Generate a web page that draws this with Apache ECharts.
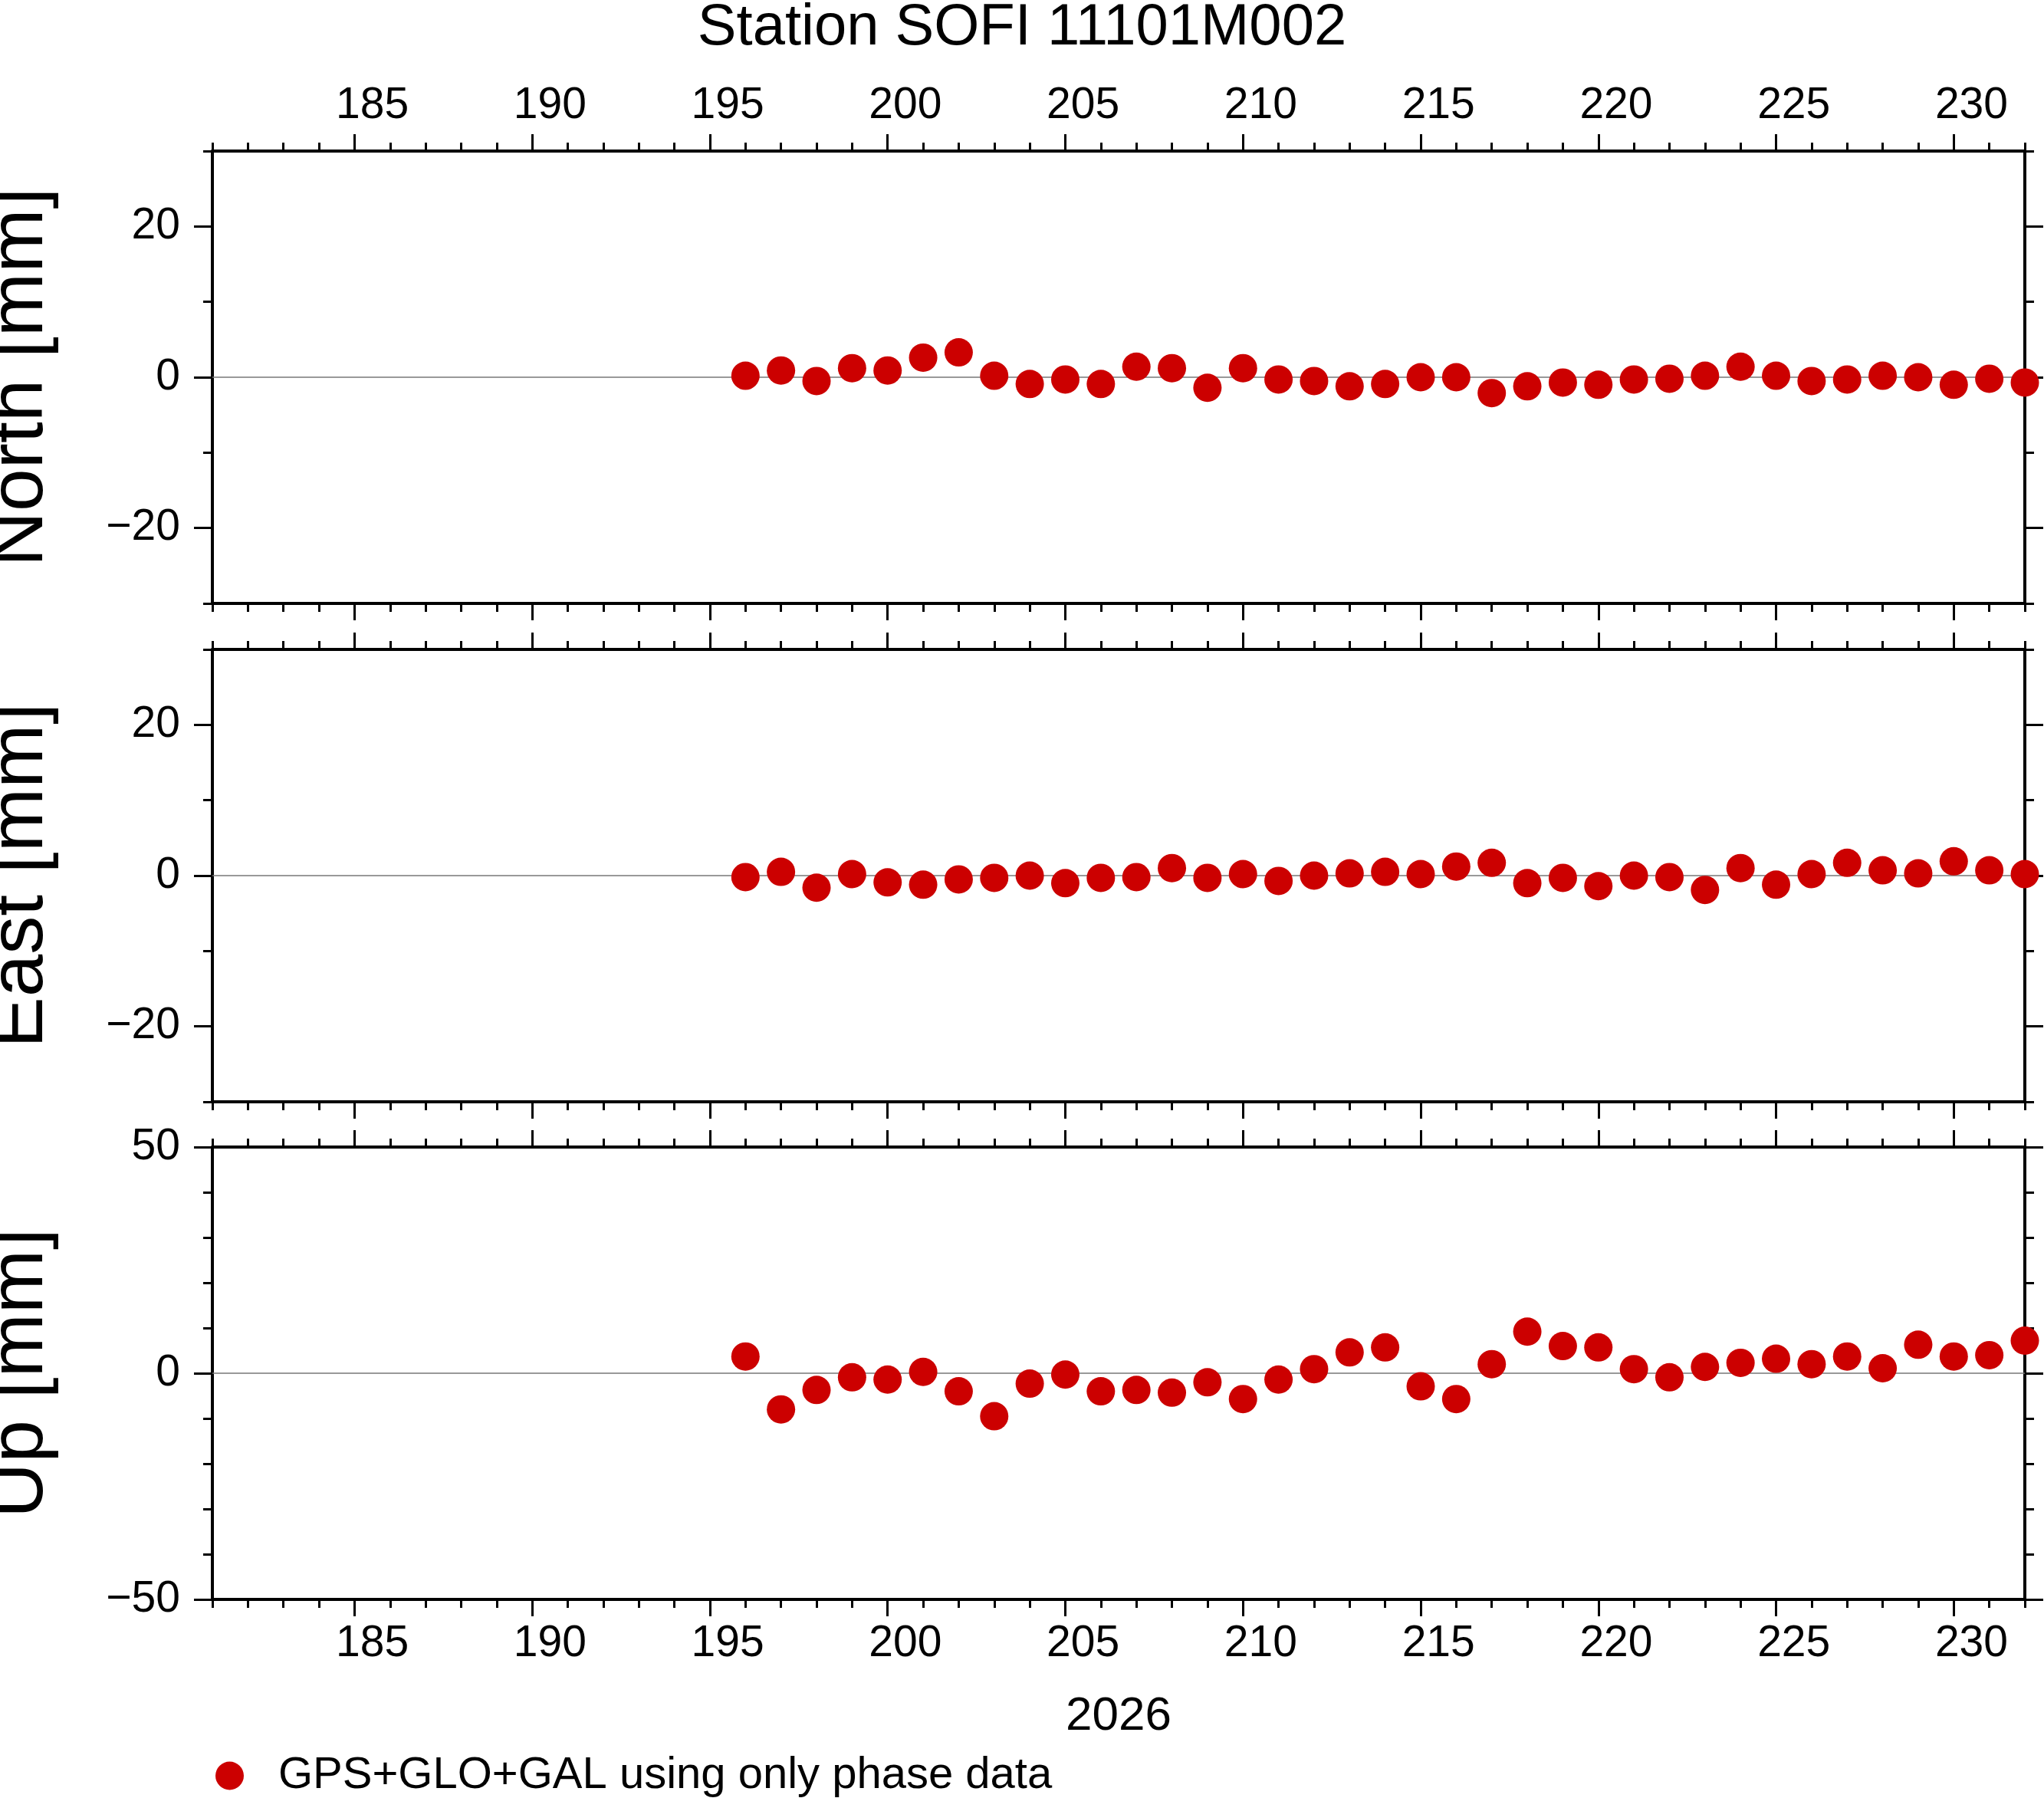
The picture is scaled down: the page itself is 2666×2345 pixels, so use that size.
<!DOCTYPE html>
<html lang="en">
<head>
<meta charset="UTF-8">
<title>Station SOFI 11101M002</title>
<script src="https://cdn.jsdelivr.net/npm/echarts@6/dist/echarts.min.js"></script>
<style>html,body{margin:0;padding:0;background:#fff}#c{width:2666px;height:2345px}</style>
</head>
<body>
<div id="c"></div>
<script>
var days = [196,197,198,199,200,201,202,203,204,205,206,207,208,209,210,211,212,213,214,215,216,217,218,219,220,221,222,223,224,225,226,227,228,229,230,231,232];
var north = [0.2,0.9,-0.5,1.2,0.9,2.6,3.3,0.2,-0.9,-0.3,-0.9,1.4,1.2,-1.4,1.2,-0.3,-0.5,-1.2,-0.9,0,0,-2.1,-1.2,-0.7,-1.0,-0.3,-0.2,0.2,1.4,0.2,-0.5,-0.3,0.2,0,-1.0,-0.2,-0.7];
var east = [-0.2,0.5,-1.6,0.2,-0.9,-1.2,-0.5,-0.3,0,-1.0,-0.3,-0.2,1.0,-0.3,0.2,-0.7,0,0.3,0.5,0.2,1.2,1.7,-1.0,-0.3,-1.4,0,-0.2,-1.9,1.0,-1.2,0.2,1.7,0.7,0.3,1.9,0.7,0.2];
var up = [3.7,-8.0,-3.7,-0.9,-1.4,0.3,-4.0,-9.5,-2.3,-0.3,-4.0,-3.7,-4.3,-2.0,-5.7,-1.4,0.9,4.6,5.7,-2.9,-5.7,2.0,9.2,6.0,5.7,0.9,-0.9,1.4,2.3,3.2,2.0,3.7,1.1,6.3,3.7,4.0,7.2];
var majorDays = [185,190,195,200,205,210,215,220,225,230];
var seriesName = 'GPS+GLO+GAL using only phase data';

var panels = [
  { name: 'North [mm]', data: north, min: -30, max: 30, labels: [-20, 0, 20], top: 197 },
  { name: 'East [mm]', data: east, min: -30, max: 30, labels: [-20, 0, 20], top: 847 },
  { name: 'Up [mm]', data: up, min: -50, max: 50, labels: [-50, 0, 50], top: 1496 }
];

var FONT = 'Liberation Sans';
var lineStyle = { color: '#000', width: 4 };
var grids = [], xAxes = [], yAxes = [], series = [];
var minorDays = [];
for (var d = 181; d <= 232; d++) minorDays.push(d);
var labelDays = majorDays.map(function (v) { return v + 0.5; });

function fmt(v) { return String(Math.round(v)).replace('-', '\u2212'); }

panels.forEach(function (p, i) {
  grids.push({ left: 277, right: 25, top: p.top, height: 590, outerBoundsMode: 'none', containLabel: false });
  ['top', 'bottom'].forEach(function (pos) {
    var showLabel = (pos === 'top' && i === 0) || (pos === 'bottom' && i === 2);
    // minor day ticks + frame line
    xAxes.push({
      gridIndex: i, type: 'value', position: pos, min: 181, max: 232,
      axisLine: { show: true, onZero: false, lineStyle: lineStyle },
      axisTick: { show: true, customValues: minorDays, length: 11, lineStyle: { color: '#000', width: 3 } },
      axisLabel: { show: false }, splitLine: { show: false }
    });
    // major ticks and labels
    xAxes.push({
      gridIndex: i, type: 'value', position: pos, min: 181, max: 232,
      axisLine: { show: false, onZero: false },
      axisTick: { show: true, customValues: majorDays, length: 22, lineStyle: { color: '#000', width: 3 } },
      axisLabel: { show: showLabel, customValues: labelDays, formatter: function (v) { return String(Math.floor(v)); },
        fontFamily: FONT, fontSize: 57, color: '#000', margin: 30 },
      splitLine: { show: false },
      name: (pos === 'bottom' && i === 2) ? '2026' : '',
      nameLocation: 'middle', nameGap: 122,
      nameTextStyle: { fontFamily: FONT, fontSize: 62, color: '#000' }
    });
  });
  ['left', 'right'].forEach(function (pos) {
    yAxes.push({
      gridIndex: i, type: 'value', position: pos, min: p.min, max: p.max, interval: 10,
      axisLine: { show: true, onZero: false, lineStyle: lineStyle },
      axisTick: { show: true, length: 12, lineStyle: { color: '#000', width: 3 } },
      axisLabel: { show: false }, splitLine: { show: false }
    });
    yAxes.push({
      gridIndex: i, type: 'value', position: pos, min: p.min, max: p.max,
      axisLine: { show: false, onZero: false },
      axisTick: { show: true, customValues: p.labels, length: 24, lineStyle: { color: '#000', width: 3 } },
      axisLabel: { show: pos === 'left', customValues: p.labels, formatter: fmt,
        fontFamily: FONT, fontSize: 57, color: '#000', margin: 42 },
      splitLine: { show: false },
      name: pos === 'left' ? p.name : '', nameLocation: 'middle', nameGap: 200,
      nameTextStyle: { fontFamily: FONT, fontSize: 100, color: '#000' }
    });
  });
  series.push({
    name: seriesName, type: 'scatter', xAxisIndex: i * 4 + 1, yAxisIndex: i * 4,
    symbolSize: 37, itemStyle: { color: '#cc0000', opacity: 1 },
    data: days.map(function (d, k) { return [d, p.data[k]]; }),
    markLine: { silent: true, symbol: 'none', label: { show: false }, z: 1,
      lineStyle: { color: '#777', width: 1.5, type: 'solid' }, data: [{ yAxis: 0 }] }
  });
});

var chart = echarts.init(document.getElementById('c'));
chart.setOption({
  animation: false,
  title: { text: 'Station SOFI 11101M002', left: 'center', top: -6,
    textStyle: { fontFamily: FONT, fontSize: 76, fontWeight: 'normal', color: '#000' } },
  legend: { left: 276, top: 2282, icon: 'circle', itemWidth: 37, itemHeight: 37,
    data: [seriesName], textStyle: { fontFamily: FONT, fontSize: 58, color: '#000', padding: [0, 0, 0, 40] } },
  grid: grids, xAxis: xAxes, yAxis: yAxes, series: series
});
</script>
</body>
</html>
